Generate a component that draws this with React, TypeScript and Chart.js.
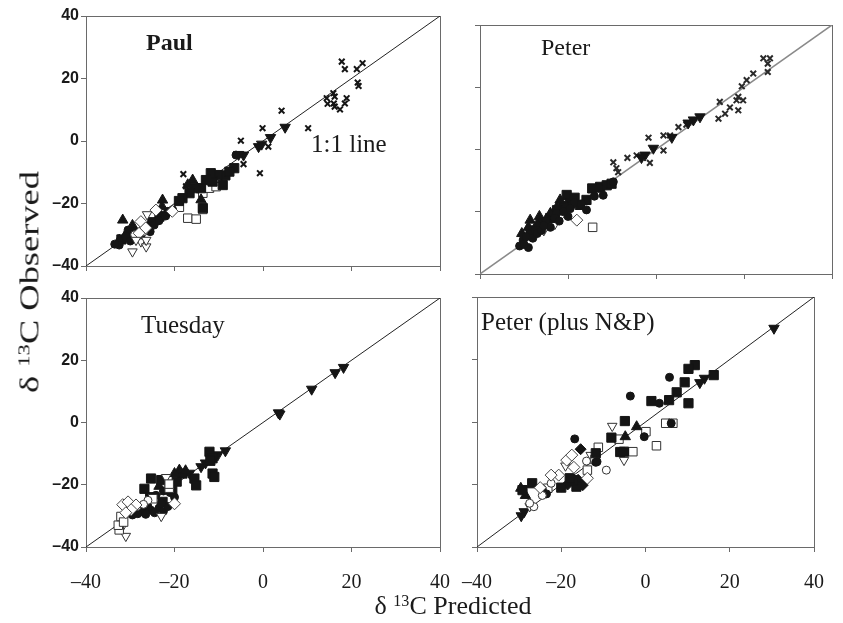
import React, { useEffect, useRef } from 'react';
import { Chart, registerables } from 'chart.js';

Chart.register(...registerables);

type P = [number, number];

const axisTicks = [-40, -20, 0, 20, 40];

// ---------- Paul ----------
const paulCross: P[] = [[17.8,25.4],[18.5,23],[21.2,23],[22.5,24.9],[21.4,18.7],[21.6,17.6],[14.4,13.7],[15.9,15.3],[16.2,14.2],[16,12],[16.2,11],[17.4,10.1],[18.9,13.7],[18.5,12],[14.6,11.9],[4.2,9.7],[-0.1,4.1],[1.2,-1.8],[-0.7,-10.3],[10.2,4.1],[-5,0.1],[-4.4,-7.4],[-18,-10.6],[-17.4,-14.5]];
const paulInvTri: P[] = [[5,4.4],[1.7,1.1],[-0.3,-1],[-1,-1.8],[-4.4,-4.5],[-5.5,-4.3]];
const paulSquare: P[] = [[-6.5,-8.7],[-8.5,-11],[-9.1,-14.1],[-10.2,-10.9],[-11.4,-13],[-11.8,-10.3],[-12.9,-12.5],[-14,-15.1],[-15.5,-15.1],[-16.6,-16.7],[-18.2,-18.3],[-19,-19.2],[-13.6,-21.5],[-23.4,-24.2],[-25,-26],[-28,-29.5],[-30.5,-30.5],[-32,-31.5],[-7.6,-9.8]];
const paulTri: P[] = [[-22.7,-18.9],[-22.8,-21],[-23.2,-23.5],[-14,-18.8],[-15.9,-12.5],[-17,-14],[-31.7,-25.3],[-32.5,-31.7],[-29.5,-27],[-26,-27.5]];
const paulCircle: P[] = [[-6.1,-4.5],[-20.4,-22.1],[-32.5,-33.3],[-24.6,-26.9],[-27,-28],[-30.5,-28.5],[-28.5,-31],[-25.5,-29],[-21.5,-22.5],[-33.5,-33],[-31,-30.5],[-30,-32],[-29,-29],[-27.5,-30],[-23.5,-25.5],[-22,-24]];
const paulOpenDiamond: P[] = [[-24.2,-22.1],[-27.6,-25.8],[-28,-29.5],[-26.5,-27.8],[-20.5,-22.5]];
const paulOpenSquare: P[] = [[-17,-24.7],[-15.1,-25],[-13.6,-21.9],[-18.9,-21.2],[-13.6,-16.7],[-12.1,-15.1],[-10.6,-14.6]];
const paulOpenInvTri: P[] = [[-29.5,-35.4],[-27.6,-32.2],[-26.4,-33.8],[-26.4,-31.7],[-28.7,-31.7],[-26.2,-23.5]];
const paulOpenCircle: P[] = [[-29,-30],[-27,-29]];

// ---------- Peter ----------
const peterCross: P[] = [[24.4,29.3],[25.9,29.3],[25.4,27.6],[25.4,24.9],[22.1,24.4],[20.6,22.3],[19.5,20.3],[18.7,16.9],[19.8,15.8],[18.3,15.8],[18.7,12.6],[16.8,13.5],[15.7,11.5],[14.2,9.9],[14.5,15.3],[5.1,7.2],[6.9,8],[1.7,4.5],[3.2,4.5],[1.7,-0.3],[-1.7,3.8],[-1.4,-4.3],[-4.4,-1.9],[-6.5,-2.7],[-9.7,-4.1],[-8.6,-7.3],[-9,-6]];
const peterInvTri: P[] = [[10,10.5],[8.5,9.5],[7.3,8.5],[3.6,3.9],[-0.6,0.4],[-2.5,-1.8],[-3.3,-2.6]];
const peterSquare: P[] = [[-20.3,-14.6],[-19.5,-17.3],[-15.8,-16.2],[-12.7,-12],[-11.2,-11.5],[-10.1,-11],[-21,-18.3],[-17.3,-17.8],[-22.5,-19.5],[-26,-23.5],[-28.5,-26],[-24,-22],[-23,-21],[-18.5,-15.5],[-14.5,-12.5]];
const peterCircle: P[] = [[-9.7,-10.4],[-12,-14.7],[-15.8,-19.4],[-22.6,-20.5],[-27.5,-25.9],[-30.2,-29.1],[-31,-31],[-29,-31.5],[-25,-23],[-24,-25],[-20,-21.5],[-18.5,-17],[-30,-30.5],[-29.5,-28],[-28,-28.5],[-27,-27],[-26,-26],[-25.5,-24.5],[-23,-22],[-22,-23],[-21,-20],[-19.5,-19],[-17,-17.5],[-14,-15],[-13,-12.5]];
const peterTri: P[] = [[-21.8,-16.2],[-28.6,-22.7],[-30.5,-27],[-26.5,-21.5],[-24,-20.5],[-29,-25],[-27,-24],[-25,-22.5],[-22.5,-18.5]];
const peterOpenDiamond: P[] = [[-18,-22.7],[-24.1,-22.1],[-21.8,-21],[-26.4,-24.8],[-27.9,-27.5],[-29,-26]];
const peterOpenSquare: P[] = [[-14.4,-25]];
const peterOpenInvTri: P[] = [[-25.5,-26],[-23,-24]];

// ---------- Tuesday ----------
const tuesInvTri: P[] = [[18.2,17.7],[16.3,16],[11,10.7],[3.5,3.1],[3.8,2.7],[-8.5,-9.1],[-10.2,-10.4],[-14,-14.2],[-13,-13],[-16.6,-16.3]];
const tuesSquare: P[] = [[-12.1,-9.4],[-11.4,-11.5],[-11.9,-12.3],[-11.4,-16.4],[-11,-17.5],[-15.5,-18],[-15.1,-20.2],[-25.3,-18],[-23,-18.5],[-26.8,-21.3],[-22.7,-25.5],[-18.2,-16.4],[-25.5,-24],[-20.5,-22],[-19.5,-19]];
const tuesTri: P[] = [[-18.9,-15.3],[-20,-16.4],[-17.5,-15.5],[-23.5,-20.5]];
const tuesCircle: P[] = [[-27.2,-28.7],[-25.3,-28.2],[-28.3,-29.3],[-29.5,-29.7],[-24.2,-23.4],[-22.5,-22],[-26,-27],[-23.5,-27.5],[-21,-22.5],[-26.5,-29.5],[-24.5,-29],[-22.5,-28.5],[-21.5,-27],[-20,-24],[-23,-26]];
const tuesOpenDiamond: P[] = [[-20,-26.1],[-31.7,-26.4],[-30.5,-25.5],[-28.7,-26.5],[-29.8,-28],[-31,-29]];
const tuesOpenSquare: P[] = [[-32.5,-34.5],[-32.7,-33],[-21.2,-21.1],[-32.1,-30.2],[-24.9,-24.5],[-21.2,-19.8],[-31.5,-32]];
const tuesOpenInvTri: P[] = [[-31,-36.5],[-23,-30.1],[-21.9,-17.6],[-31.8,-33.5]];
const tuesOpenCircle: P[] = [[-28.5,-27],[-30.5,-27.5],[-26,-25],[-27,-26.3]];

// ---------- Peter (plus N&P) ----------
const npInvTri: P[] = [[30.5,30],[14,14],[12.9,12.6],[-28.8,-28.7],[-29.5,-30]];
const npSquare: P[] = [[16.2,15],[11.7,18.2],[10.2,17],[9.3,12.7],[7.4,9.5],[5.6,7],[1.4,6.7],[10.2,6],[-4.9,0.3],[-8.1,-5],[-11.8,-10],[-6,-9.6],[-5.1,-9.5],[-16.4,-20.7],[-17.2,-18.6],[-26.9,-19.6],[-29.2,-21.8],[-18,-18],[-20,-21]];
const npCircle: P[] = [[5.7,14.3],[-3.6,8.3],[3.3,6],[6.1,-0.4],[-0.3,-4.7],[-16.8,-5.4],[-11.8,-12.9],[-11.5,-12.7],[-20,-21],[-24.5,-21.5],[-23.5,-23]];
const npTri: P[] = [[-2.1,-1.5],[-4.8,-4.7],[-29.6,-21.2],[-28.5,-23.5]];
const npDiamond: P[] = [[-15.4,-8.7],[-14.9,-20.2],[-16,-18.5],[-18.5,-20]];
const npOpenSquare: P[] = [[4.8,-0.4],[6.5,-0.4],[2.6,-7.6],[0.1,-3.1],[-3,-9.5],[-11.2,-8.1],[-13.8,-15.4],[-6.3,-5.5],[-23.2,-21.2],[-12,-12]];
const npOpenInvTri: P[] = [[-7.9,-1.3],[-5.1,-12.2],[-13,-10.6],[-27.5,-27],[-19,-14]];
const npOpenDiamond: P[] = [[-18.7,-12.2],[-20.6,-17],[-17.5,-10.6],[-13.8,-18],[-22.4,-17],[-17,-14.5],[-25,-21]];
const npOpenCircle: P[] = [[-9.3,-15.4],[-22.4,-19.6],[-26.5,-27.1],[-27.5,-26],[-24.5,-23.5],[-14,-12.5]];

const diagonal: P[] = [[-40, -40], [40, 40]];

// ---------- styles ----------
const INK = '#151515';
const AXIS = '#6a6a6a';

type Kind = 'cross' | 'circle' | 'tri' | 'invTri' | 'square' | 'diamond' | 'oSquare' | 'oDiamond' | 'oInvTri' | 'oCircle';

function styleFor(kind: Kind, crossColor = INK): any {
  switch (kind) {
    case 'cross': return { pointStyle: 'crossRot', pointRadius: 4, borderColor: crossColor, backgroundColor: crossColor, borderWidth: 2 };
    case 'circle': return { pointStyle: 'circle', pointRadius: 4, borderColor: INK, backgroundColor: INK, borderWidth: 1 };
    case 'tri': return { pointStyle: 'triangle', pointRadius: 6, borderColor: INK, backgroundColor: INK, borderWidth: 1 };
    case 'invTri': return { pointStyle: 'triangle', rotation: 180, pointRadius: 6, borderColor: INK, backgroundColor: INK, borderWidth: 1 };
    case 'square': return { pointStyle: 'rect', pointRadius: 6.5, borderColor: INK, backgroundColor: INK, borderWidth: 1 };
    case 'diamond': return { pointStyle: 'rectRot', pointRadius: 5.5, borderColor: INK, backgroundColor: INK, borderWidth: 1 };
    case 'oSquare': return { pointStyle: 'rect', pointRadius: 6, borderColor: '#333', backgroundColor: '#fff', borderWidth: 1 };
    case 'oDiamond': return { pointStyle: 'rectRot', pointRadius: 6, borderColor: '#444', backgroundColor: '#fff', borderWidth: 1 };
    case 'oInvTri': return { pointStyle: 'triangle', rotation: 180, pointRadius: 5.5, borderColor: '#333', backgroundColor: '#fff', borderWidth: 1 };
    case 'oCircle': return { pointStyle: 'circle', pointRadius: 4, borderColor: '#333', backgroundColor: '#fff', borderWidth: 1 };
  }
}

interface Panel {
  area: { l: number; t: number; r: number; b: number };
  showX: boolean;
  showY: boolean;
  lineColor: string;
  lineWidth: number;
  crossColor: string;
  series: [Kind, P[]][];
}

const panels: Panel[] = [
  {
    area: { l: 86, t: 16, r: 440, b: 266 }, showX: false, showY: true, lineColor: '#222', lineWidth: 1, crossColor: INK,
    series: [['oInvTri', paulOpenInvTri], ['oDiamond', paulOpenDiamond], ['oCircle', paulOpenCircle], ['circle', paulCircle], ['tri', paulTri], ['square', paulSquare], ['oSquare', paulOpenSquare], ['invTri', paulInvTri], ['cross', paulCross]],
  },
  {
    area: { l: 480, t: 25, r: 832, b: 274 }, showX: false, showY: false, lineColor: '#8a8a8a', lineWidth: 1.5, crossColor: '#2a2a2a',
    series: [['circle', peterCircle], ['tri', peterTri], ['square', peterSquare], ['oDiamond', peterOpenDiamond], ['oInvTri', peterOpenInvTri], ['oSquare', peterOpenSquare], ['invTri', peterInvTri], ['cross', peterCross]],
  },
  {
    area: { l: 86, t: 298, r: 440, b: 547 }, showX: true, showY: true, lineColor: '#222', lineWidth: 1, crossColor: INK,
    series: [['oDiamond', tuesOpenDiamond], ['oCircle', tuesOpenCircle], ['oSquare', tuesOpenSquare], ['oInvTri', tuesOpenInvTri], ['circle', tuesCircle], ['tri', tuesTri], ['square', tuesSquare], ['invTri', tuesInvTri]],
  },
  {
    area: { l: 477, t: 297, r: 832, b: 547 }, showX: true, showY: false, lineColor: '#222', lineWidth: 1, crossColor: INK,
    series: [['oDiamond', npOpenDiamond], ['oCircle', npOpenCircle], ['circle', npCircle], ['square', npSquare], ['diamond', npDiamond], ['tri', npTri], ['oSquare', npOpenSquare], ['oInvTri', npOpenInvTri], ['invTri', npInvTri]],
  },
];

const W = 843;
const H = 623;
const TICK = 5;
const Y_BOX = 80;
const X_BOX = 70;

const fmt = (v: any) => {
  const n = Number(v);
  if (!axisTicks.includes(n)) return '';
  return n < 0 ? '\u2013' + Math.abs(n) : String(n);
};

const boxPlugin = {
  id: 'box',
  beforeDatasetsDraw(chart: any) {
    const { left, top, right, bottom } = chart.chartArea;
    const ctx = chart.ctx;
    ctx.save();
    ctx.strokeStyle = AXIS;
    ctx.lineWidth = 1;
    ctx.strokeRect(Math.round(left) + 0.5, Math.round(top) + 0.5, Math.round(right - left), Math.round(bottom - top));
    ctx.restore();
  },
};

function makeConfig(p: Panel): any {
  const { l, t, r, b } = p.area;
  const toXY = (arr: P[]) => arr.map(([x, y]) => ({ x, y }));
  const datasets: any[] = p.series.map(([kind, arr]) => ({
    data: toXY(arr),
    ...styleFor(kind, p.crossColor),
    order: 1,
  }));
  datasets.push({
    data: toXY(diagonal),
    showLine: true,
    pointRadius: 0,
    borderColor: p.lineColor,
    borderWidth: p.lineWidth,
    order: 10,
  });
  return {
    type: 'scatter',
    data: { datasets },
    options: {
      animation: false,
      responsive: false,
      devicePixelRatio: 1,
      events: [],
      layout: { padding: { left: l - Y_BOX, top: t, right: W - r, bottom: H - b - X_BOX } },
      plugins: { legend: { display: false }, tooltip: { enabled: false } },
      scales: {
        x: {
          type: 'linear', position: 'bottom', min: -40, max: 40,
          afterFit: (s: any) => { s.height = X_BOX; },
          afterBuildTicks: (s: any) => { s.ticks = axisTicks.map((v) => ({ value: v })); },
          ticks: { display: p.showX, callback: fmt, color: '#1a1a1a', padding: 19, font: { family: "'Liberation Serif', 'Times New Roman', serif", size: 20 }, maxRotation: 0, autoSkip: false },
          grid: { drawOnChartArea: false, drawTicks: true, tickLength: TICK, color: AXIS },
          border: { color: AXIS },
        },
        y: {
          type: 'linear', position: 'left', min: -40, max: 40,
          afterFit: (s: any) => { s.width = Y_BOX; },
          afterBuildTicks: (s: any) => { s.ticks = axisTicks.map((v) => ({ value: v })); },
          ticks: { display: p.showY, callback: fmt, color: '#1a1a1a', padding: 2, font: { family: "'Liberation Sans', Arial, sans-serif", size: 16, weight: 'bold' }, autoSkip: false },
          grid: { drawOnChartArea: false, drawTicks: true, tickLength: TICK, color: AXIS },
          border: { color: AXIS },
        },
      },
    },
    plugins: [boxPlugin],
  };
}

const serif = "'Liberation Serif', 'Times New Roman', serif";

function Label({ text, left, baseline, size, bold }: { text: React.ReactNode; left: number; baseline: number; size: number; bold?: boolean }) {
  return (
    <div style={{ position: 'absolute', left, top: baseline - 0.8375 * size, fontFamily: serif, fontSize: size, lineHeight: 1, whiteSpace: 'nowrap', color: '#1a1a1a', fontWeight: bold ? 'bold' : 'normal' }}>
      {text}
    </div>
  );
}

export default function App() {
  const r0 = useRef<HTMLCanvasElement>(null);
  const r1 = useRef<HTMLCanvasElement>(null);
  const r2 = useRef<HTMLCanvasElement>(null);
  const r3 = useRef<HTMLCanvasElement>(null);
  const refs = [r0, r1, r2, r3];

  useEffect(() => {
    const charts = panels.map((p, i) => new Chart(refs[i].current as HTMLCanvasElement, makeConfig(p)));
    return () => charts.forEach((c) => c.destroy());
  }, []);

  const sup = (t: string) => <span style={{ fontSize: '0.62em', verticalAlign: '0.55em' }}>{t}</span>;

  return (
    <div style={{ position: 'fixed', left: 0, top: 0, width: W, height: H, background: '#fff', overflow: 'hidden' }}>
      {refs.map((r, i) => (
        <canvas key={i} ref={r} width={W} height={H} style={{ position: 'absolute', left: 0, top: 0, width: W, height: H }} />
      ))}
      <Label text="Paul" left={146} baseline={50.5} size={24} bold />
      <Label text="1:1 line" left={311} baseline={152} size={25} />
      <Label text="Peter" left={541} baseline={55} size={24} />
      <Label text="Tuesday" left={141} baseline={332.5} size={25} />
      <Label text="Peter (plus N&P)" left={481} baseline={330} size={25} />
      <div style={{ position: 'absolute', left: 453, top: 606, transform: 'translate(-50%, -50%)', fontFamily: serif, fontSize: 26, lineHeight: 1, whiteSpace: 'nowrap', color: '#1a1a1a' }}>
        δ {sup('13')}C Predicted
      </div>
      <div style={{ position: 'absolute', left: 30, top: 282, transform: 'translate(-50%, -50%) rotate(-90deg) scaleX(1.35)', fontFamily: serif, fontSize: 27, lineHeight: 1, whiteSpace: 'nowrap', color: '#1a1a1a' }}>
        δ {sup('13')}C Observed
      </div>
    </div>
  );
}
